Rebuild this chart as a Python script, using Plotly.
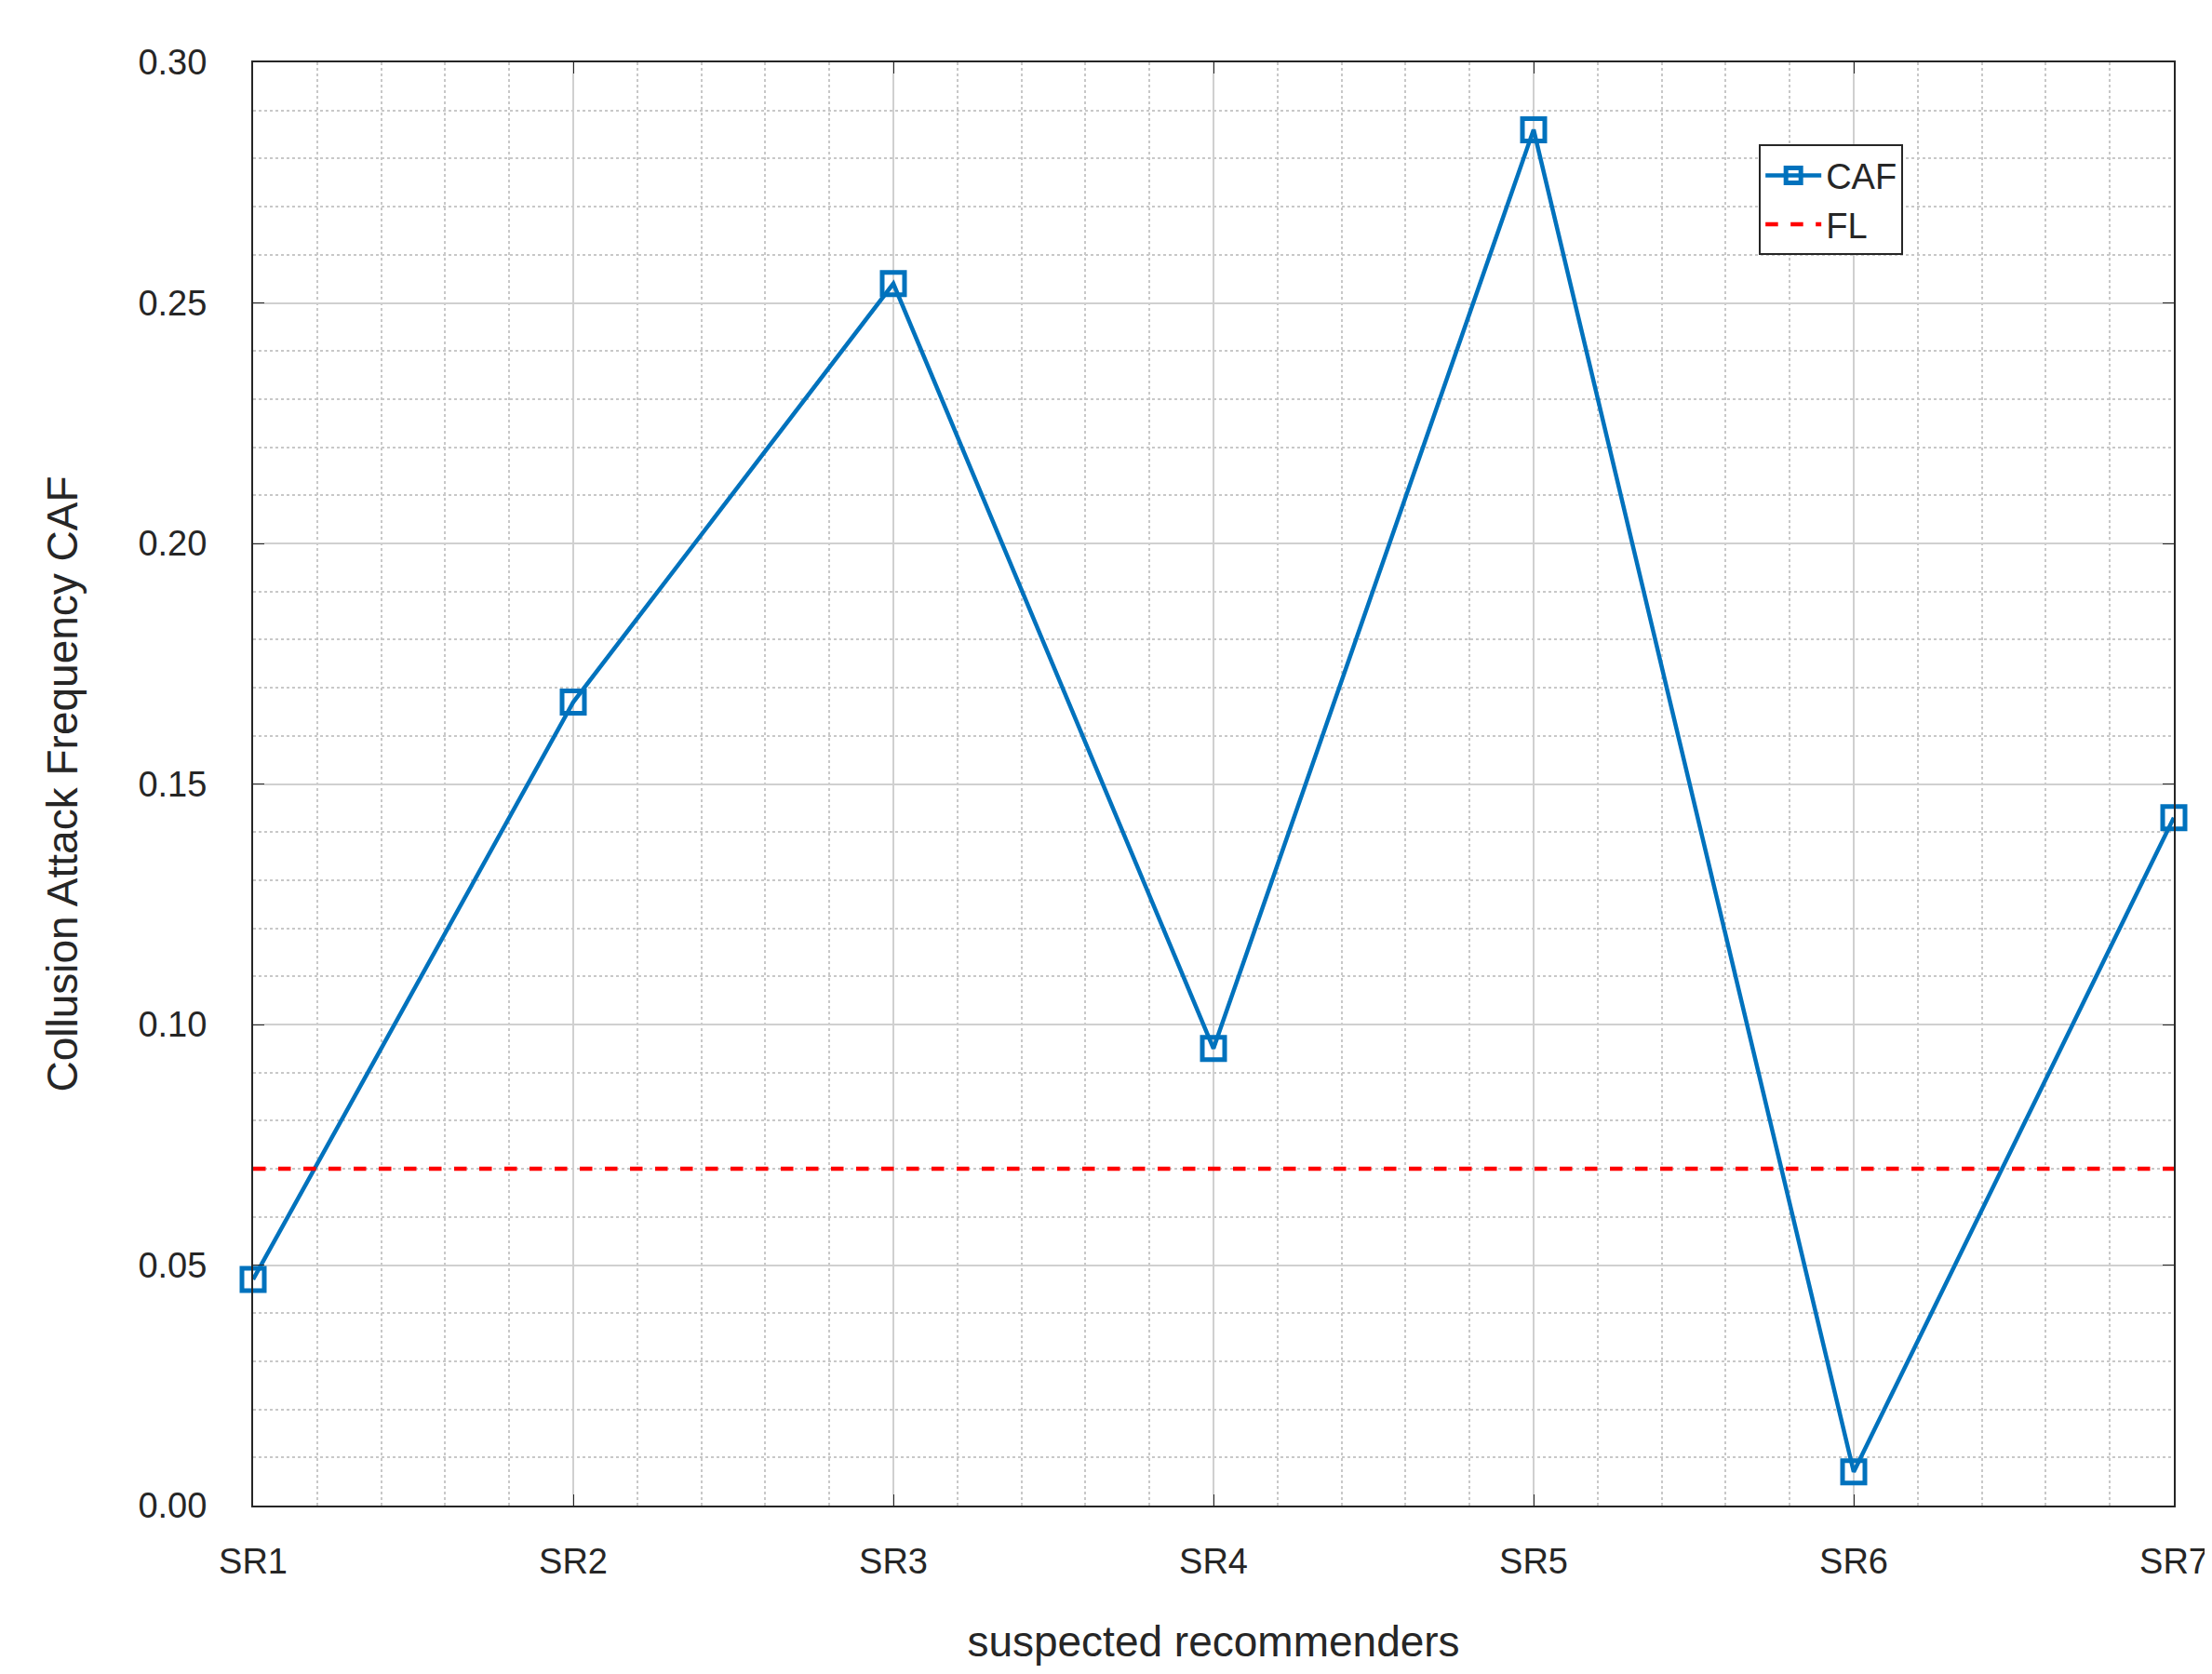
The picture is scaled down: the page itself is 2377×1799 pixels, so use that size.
import plotly.graph_objects as go

categories = ["SR1", "SR2", "SR3", "SR4", "SR5", "SR6", "SR7"]
caf = [0.047, 0.167, 0.254, 0.095, 0.286, 0.007, 0.143]
fl_level = 0.07
xs = list(range(len(categories)))

fig = go.Figure()
fig.add_trace(go.Scatter(x=xs, y=caf, mode="lines+markers", name="CAF", cliponaxis=False,
                         line=dict(color="#0072BD", width=4.5),
                         marker=dict(symbol="square-open", size=24, color="#0072BD",
                                     line=dict(width=5))))
fig.add_trace(go.Scatter(x=[xs[0], xs[-1]], y=[fl_level] * 2, mode="lines", name="FL",
                         line=dict(color="#FF0000", width=4.5, dash="dash")))

font = dict(family="Liberation Sans, Arial", size=38, color="#262626")
fig.update_layout(
    width=2377, height=1799, plot_bgcolor="white", paper_bgcolor="white",
    font=font, margin=dict(l=264, r=47, t=59, b=189),
    legend=dict(x=0.784, y=0.943, xanchor="left", yanchor="top",
                bordercolor="#262626", borderwidth=2, bgcolor="white",
                font=dict(size=38), tracegroupgap=20, itemwidth=60),
)
fig.update_xaxes(range=[0, 6], tickvals=xs, ticktext=categories,
                 showgrid=True, gridcolor="#d0d0d0", gridwidth=2,
                 minor=dict(dtick=0.2, showgrid=True, gridcolor="#c8c8c8",
                            griddash="dot", gridwidth=2),
                 showline=True, linecolor="#262626", linewidth=2, mirror="ticks",
                 ticks="inside", ticklen=12, tickcolor="#262626", ticklabelstandoff=25,
                 title=dict(text="suspected recommenders", standoff=50), zeroline=False)
fig.update_yaxes(range=[0, 0.30], dtick=0.05, tickformat=".2f",
                 showgrid=True, gridcolor="#d0d0d0", gridwidth=2,
                 minor=dict(dtick=0.01, showgrid=True, gridcolor="#c8c8c8",
                            griddash="dot", gridwidth=2),
                 showline=True, linecolor="#262626", linewidth=2, mirror="ticks",
                 ticks="inside", ticklen=12, tickcolor="#262626", ticklabelstandoff=40,
                 title=dict(text="Collusion Attack Frequency CAF", standoff=50), zeroline=False)
fig.write_html("out.html")
